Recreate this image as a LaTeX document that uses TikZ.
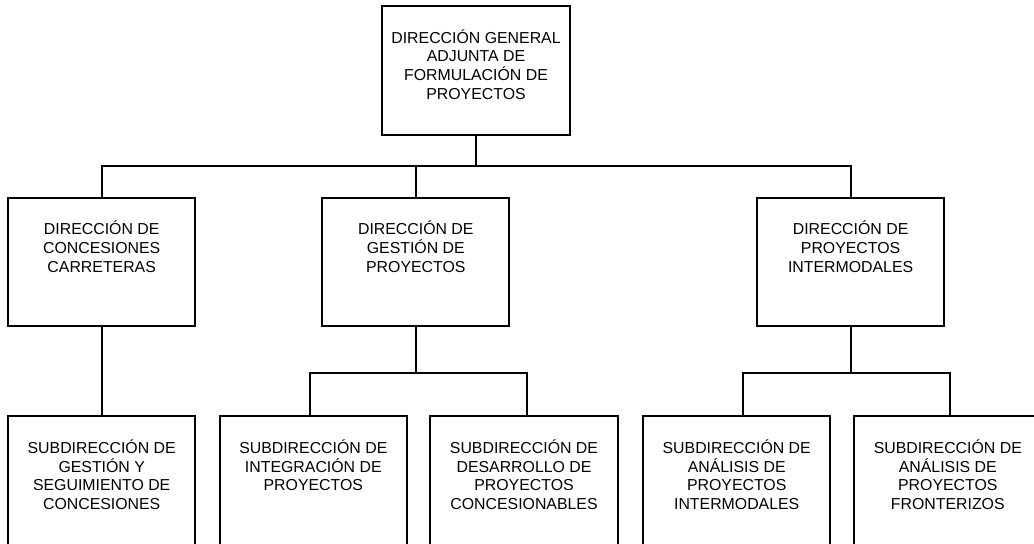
\documentclass[tikz,border=0pt]{standalone}
\usepackage{fontspec}
\setmainfont{Liberation Sans}
\usetikzlibrary{positioning}

\begin{document}
\begin{tikzpicture}[%
		x=0.75pt,
		y=-0.75pt,
		line width=1.5pt,
		unidad/.style={rectangle, draw, minimum width=140.3pt, minimum height=96.4pt, inner sep=0pt},
		rotulo/.style={anchor=north, align=center, inner sep=0pt, yshift=-17.5pt, font=\fontsize{11.9}{14}\selectfont}
		]
		% (1034px,543px), y downwards
		\useasboundingbox (0,0) rectangle (1034,543);
		\clip (0,0) rectangle (1034,543);
		%%%%%%%%%%%%%%%
		%    NODES    %
		%%%%%%%%%%%%%%%
		\node[unidad, label={[rotulo]north:DIRECCIÓN GENERAL\\ADJUNTA DE\\FORMULACIÓN DE\\PROYECTOS}] (dg) at (476, 70.4) {};
		
		% Direcciones
		\node[unidad, label={[rotulo]north:DIRECCIÓN DE\\CONCESIONES\\CARRETERAS}] (conc) at (101.7, 262) {};
		\node[unidad, label={[rotulo]north:DIRECCIÓN DE\\GESTIÓN DE\\PROYECTOS}] (gest) at (415.8, 262) {};
		\node[unidad, label={[rotulo]north:DIRECCIÓN DE\\PROYECTOS\\INTERMODALES}] (inter) at (850.6, 262) {};
		
		% Subdirecciones
		\node[unidad, label={[rotulo]north:SUBDIRECCIÓN DE\\GESTIÓN Y\\SEGUIMIENTO DE\\CONCESIONES}] (sgc) at (101.7, 480.5) {};
		\node[unidad, label={[rotulo]north:SUBDIRECCIÓN DE\\INTEGRACIÓN DE\\PROYECTOS}] (sip) at (313.3, 480.5) {};
		\node[unidad, label={[rotulo]north:SUBDIRECCIÓN DE\\DESARROLLO DE\\PROYECTOS\\CONCESIONABLES}] (sdp) at (524, 480.5) {};
		\node[unidad, label={[rotulo]north:SUBDIRECCIÓN DE\\ANÁLISIS DE\\PROYECTOS\\INTERMODALES}] (sap) at (736.7, 480.5) {};
		\node[unidad, label={[rotulo]north:SUBDIRECCIÓN DE\\ANÁLISIS DE\\PROYECTOS\\FRONTERIZOS}] (saf) at (947.8, 480.5) {};
		
		%%%%%%%%%%%%%%%
		% CONNECTIONS %
		%%%%%%%%%%%%%%%
		\coordinate (bus) at (476, 166);
		\coordinate (gbus) at (415.8, 373);
		\coordinate (ibus) at (850.6, 373);
		
		\draw (dg.south) -- (bus);
		\draw (conc.north) |- (bus) -| (inter.north);
		\draw (gest.north) -- (gest.north |- bus);
		
		\path (conc.south) edge (sgc.north);
		
		\draw (gest.south) -- (gbus);
		\draw ([xshift=-2.25pt]sip.north) |- (gbus) -| ([xshift=2pt]sdp.north);
		
		\draw (inter.south) -- (ibus);
		\draw ([xshift=4.5pt]sap.north) |- (ibus) -| ([xshift=1.5pt]saf.north);
		
	\end{tikzpicture}
\end{document}
